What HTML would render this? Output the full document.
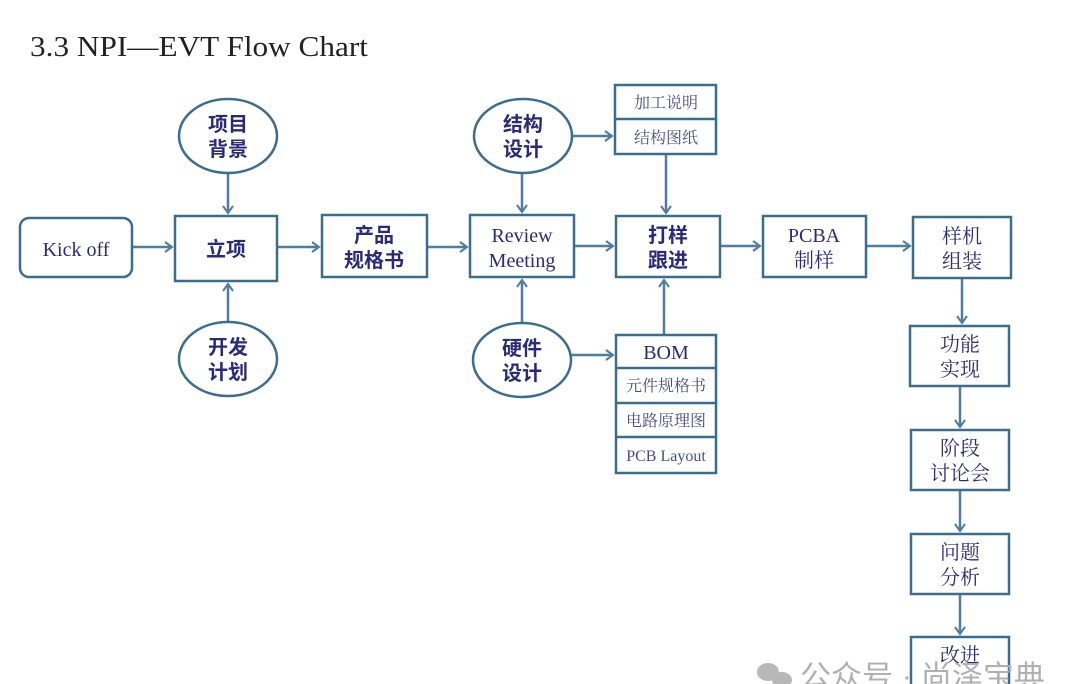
<!DOCTYPE html>
<html><head><meta charset="utf-8"><style>
html,body{margin:0;padding:0;background:#fff;width:1080px;height:684px;overflow:hidden}
svg{display:block}
.b{fill:#fff;stroke:#3d6d8c;stroke-width:2.5}
.t{font-family:"Liberation Serif","Noto Serif CJK SC",serif;fill:#2b2a78;font-size:20px;text-anchor:middle}
.c{font-family:"Liberation Sans","Noto Sans CJK SC",sans-serif;font-weight:bold;fill:#2b2a78;font-size:20px;text-anchor:middle}
.s{font-family:"Liberation Serif","Noto Serif CJK SC",serif;fill:#4a4a8a;font-size:16px;text-anchor:middle}
.a{stroke:#4f7d9b;stroke-width:2.5;fill:none}
</style></head><body>
<svg width="1080" height="684" viewBox="0 0 1080 684">
<defs><marker id="m" markerWidth="12" markerHeight="12" refX="9" refY="6" orient="auto" markerUnits="userSpaceOnUse"><path d="M2,1 L9,6 L2,11" fill="none" stroke="#4f7d9b" stroke-width="2"/></marker></defs>
<text x="30" y="56" font-family="Liberation Serif,serif" font-size="29" fill="#222" textLength="338" lengthAdjust="spacingAndGlyphs">3.3  NPI—EVT Flow Chart</text>

<g class="a" marker-end="url(#m)">
<line x1="132" y1="247" x2="172" y2="247"/>
<line x1="277" y1="247" x2="319" y2="247"/>
<line x1="427" y1="247" x2="467" y2="247"/>
<line x1="574" y1="246" x2="613" y2="246"/>
<line x1="720" y1="246" x2="760" y2="246"/>
<line x1="866" y1="246" x2="910" y2="246"/>
<line x1="228" y1="174" x2="228" y2="213"/>
<line x1="228" y1="321" x2="228" y2="284"/>
<line x1="522" y1="174" x2="522" y2="212"/>
<line x1="522" y1="322" x2="522" y2="280"/>
<line x1="572" y1="136" x2="612" y2="136"/>
<line x1="571" y1="355" x2="613" y2="355"/>
<line x1="666" y1="154" x2="666" y2="213"/>
<line x1="664" y1="335" x2="664" y2="280"/>
<line x1="962" y1="278" x2="962" y2="323"/>
<line x1="960" y1="386" x2="960" y2="427"/>
<line x1="960" y1="490" x2="960" y2="531"/>
<line x1="960" y1="594" x2="960" y2="634"/>
</g>

<rect class="b" x="20" y="218" width="112" height="59" rx="9"/>
<text x="76" y="256" class="t" font-size="24">Kick off</text>
<rect class="b" x="175" y="216" width="102" height="65"/>
<text x="226" y="256" class="c">立项</text>
<rect class="b" x="322" y="215" width="105" height="62"/>
<text x="374" y="242" class="c">产品</text><text x="374" y="267" class="c">规格书</text>
<rect class="b" x="470" y="215" width="104" height="62"/>
<text x="522" y="242" class="t">Review</text><text x="522" y="267" class="t">Meeting</text>
<rect class="b" x="616" y="216" width="104" height="61"/>
<text x="668" y="242" class="c">打样</text><text x="668" y="267" class="c">跟进</text>
<rect class="b" x="763" y="216" width="103" height="61"/>
<text x="814" y="242" class="t">PCBA</text><text x="814" y="267" class="t">制样</text>
<rect class="b" x="913" y="217" width="98" height="61"/>
<text x="962" y="243" class="t">样机</text><text x="962" y="268" class="t">组装</text>
<rect class="b" x="910" y="326" width="99" height="60"/>
<text x="960" y="351" class="t">功能</text><text x="960" y="376" class="t">实现</text>
<rect class="b" x="911" y="430" width="98" height="60"/>
<text x="960" y="455" class="t">阶段</text><text x="960" y="480" class="t">讨论会</text>
<rect class="b" x="911" y="534" width="98" height="60"/>
<text x="960" y="559" class="t">问题</text><text x="960" y="584" class="t">分析</text>
<rect class="b" x="911" y="637" width="98" height="60"/>
<text x="960" y="662" class="t">改进</text>

<ellipse class="b" cx="228" cy="136" rx="49" ry="37"/>
<text x="228" y="131" class="c">项目</text><text x="228" y="156" class="c">背景</text>
<ellipse class="b" cx="228" cy="359" rx="49" ry="37"/>
<text x="228" y="354" class="c">开发</text><text x="228" y="379" class="c">计划</text>
<ellipse class="b" cx="523" cy="136" rx="49" ry="37"/>
<text x="523" y="131" class="c">结构</text><text x="523" y="156" class="c">设计</text>
<ellipse class="b" cx="522" cy="360" rx="49" ry="37"/>
<text x="522" y="355" class="c">硬件</text><text x="522" y="380" class="c">设计</text>

<rect class="b" x="615" y="85" width="101" height="69"/>
<line x1="615" y1="119" x2="716" y2="119" stroke="#3d6d8c" stroke-width="2.5"/>
<text x="666" y="108" class="s">加工说明</text><text x="666" y="143" class="s">结构图纸</text>

<rect class="b" x="616" y="335" width="100" height="138"/>
<g stroke="#3d6d8c" stroke-width="2.5"><line x1="616" y1="368" x2="716" y2="368"/><line x1="616" y1="403" x2="716" y2="403"/><line x1="616" y1="437" x2="716" y2="437"/></g>
<text x="666" y="359" class="t">BOM</text>
<text x="666" y="391" class="s">元件规格书</text>
<text x="666" y="426" class="s">电路原理图</text>
<text x="666" y="461" class="s">PCB Layout</text>

<g fill="#b8b8b8"><ellipse cx="768" cy="672" rx="11" ry="9"/><ellipse cx="782" cy="680" rx="10" ry="8"/></g>
<text x="800" y="686" font-family="Liberation Sans,Noto Sans CJK SC,sans-serif" font-size="29" fill="#b0b0b0" textLength="245" lengthAdjust="spacingAndGlyphs">公众号 · 尚泽宝典</text>
</svg>
</body></html>
